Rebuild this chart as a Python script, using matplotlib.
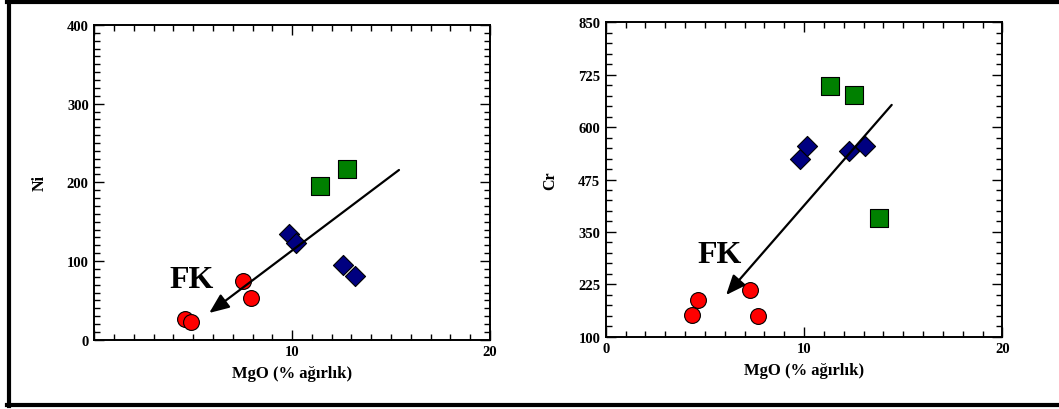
import matplotlib
matplotlib.use("Agg")
import matplotlib.pyplot as plt
from matplotlib.lines import Line2D
from matplotlib.ticker import MultipleLocator

plt.rcParams['font.family'] = ['Liberation Serif', 'DejaVu Serif']
plt.rcParams['font.weight'] = 'bold'

# MgO (wt %) and trace elements (ppm) for the three rock groups
mgo_ni_circle = [4.57, 4.88, 7.53, 7.90]
ni_circle = [26, 23, 74, 53]
mgo_ni_diamond = [9.86, 10.2, 12.55, 13.19]
ni_diamond = [134, 123, 95, 81]
mgo_ni_square = [11.4, 12.77]
ni_square = [195, 217]

mgo_cr_circle = [4.34, 4.67, 7.28, 7.70]
cr_circle = [152, 188, 212, 149]
mgo_cr_diamond = [9.81, 10.15, 12.27, 13.06]
cr_diamond = [523, 555, 542, 555]
mgo_cr_square = [11.3, 12.54, 13.8]
cr_square = [698, 676, 383]

# fractional crystallisation trend arrows (start -> end)
ni_arrow = [(15.4, 215.7), (5.81, 34)]
cr_arrow = [(14.42, 653), (6.07, 199.5)]

ni_yticks = [0, 100, 200, 300, 400]
cr_yticks = [100, 225, 350, 475, 600, 725, 850]
xticks = [0, 10, 20]

fig = plt.figure(figsize=(10.59, 4.10), dpi=100)

ax1 = fig.add_axes([0.0890, 0.169, 0.3737, 0.7676])
ax2 = fig.add_axes([0.5720, 0.1763, 0.3745, 0.7668])

tick_font = dict(family='Liberation Serif', weight='bold', size=10.5)


def style(ax, yticks, ylabel, yminor, show_zero):
    ax.set_xlim(0, 20)
    ax.set_ylim(yticks[0], yticks[-1])
    ax.set_xticks(xticks)
    ax.set_xticklabels([str(t) if (t != 0 or show_zero) else '' for t in xticks], **tick_font)
    ax.set_yticks(yticks)
    ax.set_yticklabels([str(t) for t in yticks], **tick_font)
    ax.xaxis.set_minor_locator(MultipleLocator(1))
    ax.yaxis.set_minor_locator(MultipleLocator(yminor))
    ax.tick_params(which='both', direction='in', top=True, right=True, width=1, color='black')
    ax.tick_params(which='major', length=7, pad=4)
    ax.tick_params(which='minor', length=4)
    for s in ax.spines.values():
        s.set_linewidth(1.4)
    ax.set_xlabel('MgO (% ağırlık)', fontsize=12, fontweight='bold', labelpad=5)
    ax.set_ylabel(ylabel, fontsize=11.5, fontweight='bold', labelpad=14)


def draw(ax, c, d, s, arrow, fk):
    ax.scatter(c[0], c[1], s=130, marker='o', c='#ff0000', edgecolors='black', linewidths=0.8, zorder=3)
    ax.scatter(d[0], d[1], s=105, marker='D', c='#000080', edgecolors='black', linewidths=0.8, zorder=3)
    ax.scatter(s[0], s[1], s=150, marker='s', c='#008000', edgecolors='black', linewidths=0.8, zorder=3)
    ax.annotate('', xy=arrow[1], xytext=arrow[0],
                arrowprops=dict(arrowstyle='-|>,head_length=1.2,head_width=0.5',
                                color='black', lw=1.6, shrinkA=0, shrinkB=0), zorder=4)
    ax.text(fk[0], fk[1], 'FK', fontsize=23, fontweight='bold', family='Liberation Serif',
            ha='center', va='center')


style(ax1, ni_yticks, 'Ni', 10, False)
draw(ax1, (mgo_ni_circle, ni_circle), (mgo_ni_diamond, ni_diamond),
     (mgo_ni_square, ni_square), ni_arrow, (4.92, 77))

style(ax2, cr_yticks, 'Cr', 25, True)
draw(ax2, (mgo_cr_circle, cr_circle), (mgo_cr_diamond, cr_diamond),
     (mgo_cr_square, cr_square), cr_arrow, (5.76, 297))

# outer frame: top, left and bottom rules
W, H = 1059, 410
lw = 3.0
fig.add_artist(Line2D([8.5 / W, 8.5 / W], [3 / H, 1 - 3 / H], transform=fig.transFigure, color='black', lw=lw))
fig.add_artist(Line2D([7 / W, 1], [1 - 3 / H, 1 - 3 / H], transform=fig.transFigure, color='black', lw=lw))
fig.add_artist(Line2D([7 / W, 1], [4.5 / H, 4.5 / H], transform=fig.transFigure, color='black', lw=lw))

fig.savefig('out.png', dpi=100)
